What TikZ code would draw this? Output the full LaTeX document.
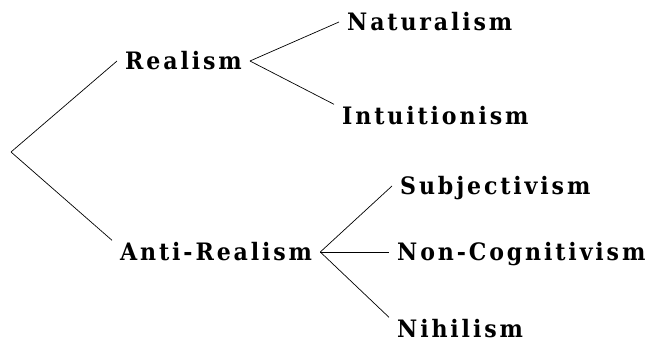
\documentclass[tikz,border=0pt]{standalone}
\usepackage{fontspec}
\usepackage{tikz}
\newfontfamily\slabfont{DejaVu Serif}[LetterSpace=12, FakeStretch=0.92]
\tikzset{
    school/.style={font=\slabfont\bfseries\fontsize{24}{28}\selectfont,
        anchor=west, inner xsep=8pt, inner ysep=3pt, text height=17pt, text depth=0pt},
    branch/.style={line width=0.7pt}
}

\begin{document}
\begin{tikzpicture}[x=1pt, y=-1pt]
    \useasboundingbox (0,0) rectangle (654,343);

    % Root of the tree
    \coordinate (root) at (11,152);

    % First level
    \node[school] (real) at (117,61) {Realism};
    \node[school] (anti) at (112,252) {Anti-Realism};
    \draw[branch] (root) -- (real.west);
    \draw[branch] (root) -- (anti.north west);

    % Kinds of realism
    \node[school] (nat) at (339,22) {Naturalism};
    \node[school] (intu) at (334,116) {Intuitionism};
    \draw[branch] (real.east) -- (nat.west);
    \draw[branch] (real.east) -- (intu.north west);

    % Kinds of anti-realism
    \node[school] (subj) at (392,186) {Subjectivism};
    \node[school] (noncog) at (389,252) {Non-Cognitivism};
    \node[school] (nihil) at (389,329) {Nihilism};
    \draw[branch] (anti.east) -- (subj.west);
    \draw[branch] (anti.east) -- (noncog.west);
    \draw[branch] (anti.east) -- (nihil.north west);

\end{tikzpicture}
\end{document}
